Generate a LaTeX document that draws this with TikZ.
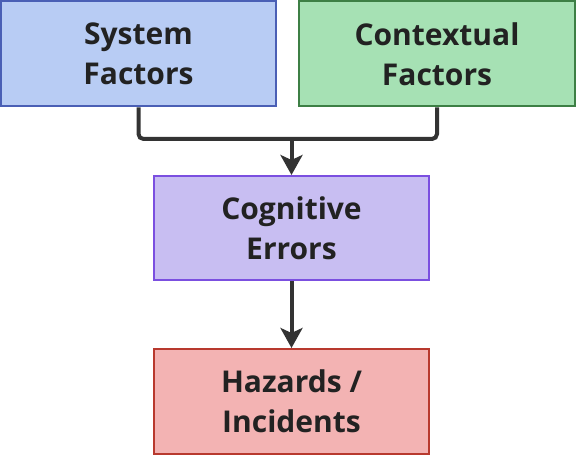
\documentclass[tikz,border=0pt]{standalone}
\usepackage{fontspec}
\setmainfont{Open Sans}
\usetikzlibrary{arrows.meta}
\definecolor{sysfill}{HTML}{B8CCF4}
\definecolor{sysdraw}{HTML}{4A5FB5}
\definecolor{ctxfill}{HTML}{A6E1B4}
\definecolor{ctxdraw}{HTML}{3D7F45}
\definecolor{cogfill}{HTML}{C8BEF2}
\definecolor{cogdraw}{HTML}{7B4FE0}
\definecolor{hazfill}{HTML}{F3B3B3}
\definecolor{hazdraw}{HTML}{B8392E}
\definecolor{ink}{HTML}{222222}
\definecolor{linec}{HTML}{333333}
\tikzset{
  box/.style={rectangle, line width=2pt, inner sep=0pt, align=center,
    text=ink, font=\fontsize{30}{40}\selectfont\bfseries,
    minimum height=105pt},
  conn/.style={draw=linec, line width=4pt, rounded corners=5pt},
  arr/.style={conn, -{Stealth[length=20pt,width=22pt,inset=5pt]}}
}
\begin{document}
\begin{tikzpicture}[x=1pt,y=1pt]
\useasboundingbox (0,0) rectangle (576,456);
\node[box, fill=sysfill, draw=sysdraw, minimum width=275pt] (sys) at (138.5,402) {System\\Factors};
\node[box, fill=ctxfill, draw=ctxdraw, minimum width=276pt] (ctx) at (437,402) {Contextual\\Factors};
\node[box, fill=cogfill, draw=cogdraw, minimum width=275pt, minimum height=104pt] (cog) at (291.5,228) {Cognitive\\Errors};
\node[box, fill=hazfill, draw=hazdraw, minimum width=275pt] (haz) at (291.5,54.5) {Hazards /\\Incidents};
\coordinate (j) at (291.5,317);
\draw[conn] (sys.south) |- (j) -| (ctx.south);
\draw[arr] (j) -- (cog.north);
\draw[arr] (cog.south) -- (haz.north);
\end{tikzpicture}
\end{document}
